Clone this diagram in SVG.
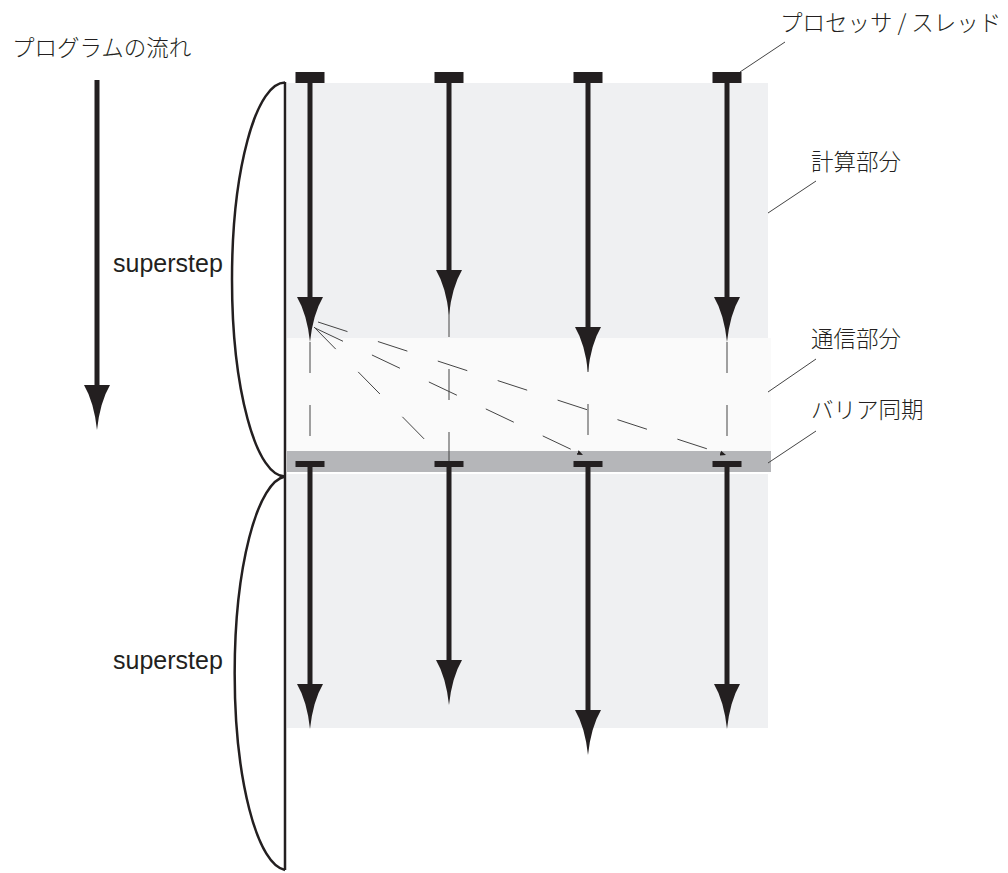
<svg xmlns="http://www.w3.org/2000/svg" width="1008" height="873" viewBox="0 0 1008 873">
<style>
.jp{font-family:"Noto Sans CJK JP","Noto Sans",sans-serif;font-size:22.5px;font-weight:300;fill:#231f20}
.en{font-family:"Liberation Sans",Arial,sans-serif;font-size:25px;fill:#231f20}
.stem{stroke:#231f20;stroke-width:5;fill:none}
.head{fill:#231f20}
.bar{fill:#231f20}
.thin{stroke:#444;stroke-width:1;fill:none}
.dash{stroke:#444;stroke-width:1;fill:none;stroke-dasharray:31 32}
.brace{stroke:#231f20;stroke-width:2.5;fill:none}
</style>
<defs>
<path id="ah" d="M-13,-45 L13,-45 Q3,-28 0,0 Q-3,-28 -13,-45 Z"/>
<marker id="tiny" viewBox="0 0 6 6" refX="6" refY="3" markerWidth="6" markerHeight="6" markerUnits="userSpaceOnUse" orient="auto">
<path d="M0,0.5 L6,3 L0,5.5 Z" fill="#231f20"/>
</marker>
</defs>
<rect width="1008" height="873" fill="#ffffff"/>
<g id="compute-top"><rect x="287" y="83" width="481" height="255" fill="#eff0f2"/></g>
<g id="communication"><rect x="287" y="338" width="484" height="113" fill="#fafafa"/></g>
<g id="barrier"><rect x="287" y="451" width="484" height="21" fill="#b5b6b9"/></g>
<g id="compute-bottom"><rect x="287" y="474" width="481" height="254" fill="#eff0f2"/></g>

<g id="connectors">
<line class="dash" x1="310" y1="342" x2="310" y2="451"/>
<line class="dash" x1="449" y1="306" x2="449" y2="461"/>
<line class="dash" x1="588" y1="341" x2="588" y2="451"/>
<line class="dash" x1="727" y1="342" x2="727" y2="451"/>
<line class="dash" x1="314" y1="327" x2="437" y2="452"/>
<line class="dash" x1="315" y1="328" x2="583" y2="455" marker-end="url(#tiny)"/>
<line class="dash" x1="318" y1="322" x2="726" y2="455" marker-end="url(#tiny)"/>
<line class="thin" x1="785" y1="42" x2="740" y2="72"/>
<line class="thin" x1="816" y1="181" x2="768" y2="213"/>
<line class="thin" x1="816" y1="359" x2="768" y2="392"/>
<line class="thin" x1="816" y1="431" x2="768" y2="463"/>
</g>

<g id="proc1">
<rect class="bar" x="295.5" y="72" width="29" height="11"/>
<line class="stem" x1="310" y1="83" x2="310" y2="300"/>
<use href="#ah" class="head" transform="translate(310,342)"/>
<rect class="bar" x="295.5" y="461" width="29" height="6"/>
<line class="stem" x1="310" y1="467" x2="310" y2="687"/>
<use href="#ah" class="head" transform="translate(310,729)"/>
</g>
<g id="proc2">
<rect class="bar" x="434.5" y="72" width="29" height="11"/>
<line class="stem" x1="449" y1="83" x2="449" y2="273"/>
<use href="#ah" class="head" transform="translate(449,315)"/>
<rect class="bar" x="434.5" y="461" width="29" height="6"/>
<line class="stem" x1="449" y1="467" x2="449" y2="663"/>
<use href="#ah" class="head" transform="translate(449,705)"/>
</g>
<g id="proc3">
<rect class="bar" x="573.5" y="72" width="29" height="11"/>
<line class="stem" x1="588" y1="83" x2="588" y2="330"/>
<use href="#ah" class="head" transform="translate(588,372)"/>
<rect class="bar" x="573.5" y="461" width="29" height="6"/>
<line class="stem" x1="588" y1="467" x2="588" y2="713"/>
<use href="#ah" class="head" transform="translate(588,755)"/>
</g>
<g id="proc4">
<rect class="bar" x="712.5" y="72" width="29" height="11"/>
<line class="stem" x1="727" y1="83" x2="727" y2="300"/>
<use href="#ah" class="head" transform="translate(727,342)"/>
<rect class="bar" x="712.5" y="461" width="29" height="6"/>
<line class="stem" x1="727" y1="467" x2="727" y2="687"/>
<use href="#ah" class="head" transform="translate(727,729)"/>
</g>

<g id="program-flow">
<text class="jp" x="12" y="56">プログラムの流れ</text>
<line class="stem" x1="97" y1="80" x2="97" y2="388"/>
<use href="#ah" class="head" transform="translate(97,430)"/>
</g>

<g id="superstep-braces">
<line class="brace" x1="285" y1="82" x2="285" y2="870"/>
<path class="brace" d="M285,82.5 A53,197 0 0,0 285,476.5"/>
<path class="brace" d="M285,476.5 A53,197 0 0,0 285,870"/>
<text class="en" x="113" y="272">superstep</text>
<text class="en" x="113" y="669">superstep</text>
</g>

<g id="labels">
<text class="jp" x="780" y="31">プロセッサ / スレッド</text>
<text class="jp" x="811" y="170">計算部分</text>
<text class="jp" x="811" y="347">通信部分</text>
<text class="jp" x="811" y="418">バリア同期</text>
</g>
</svg>
